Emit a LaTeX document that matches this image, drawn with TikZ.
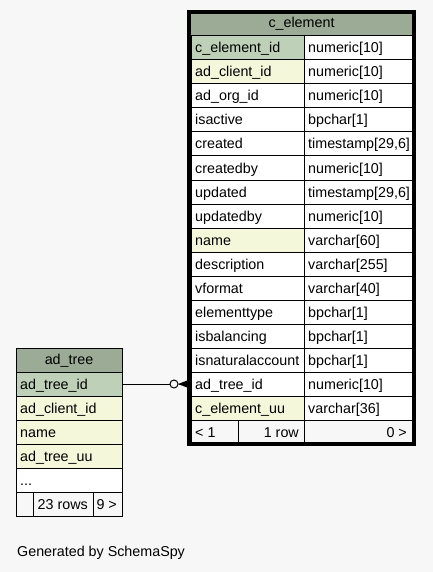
\documentclass[tikz,border=0pt]{standalone}
\usepackage{fontspec}
\setmainfont{Liberation Sans}
\definecolor{bg}{HTML}{F7F7F7}
\definecolor{hdr}{HTML}{9BAB96}
\definecolor{pk}{HTML}{BED1B8}
\definecolor{idx}{HTML}{F4F7DA}
% left-aligned cell: name, x, y(top), width, fill, text
\newcommand\lcell[6]{%
  \node[cellbox,fill=#5,minimum width=#4pt] (#1) at (#2,#3) {};
  \node[txt,anchor=base west] (#1-t) at ({#2+4},{#3+17}) {#6};}
% right-aligned cell
\newcommand\rcell[6]{%
  \node[cellbox,fill=#5,minimum width=#4pt] (#1) at (#2,#3) {};
  \node[txt,anchor=base east] (#1-t) at ({#2+#4-5},{#3+17}) {#6};}
% centered header cell
\newcommand\hcell[6]{%
  \node[cellbox,fill=#5,minimum width=#4pt] (#1) at (#2,#3) {};
  \node[txt,anchor=base] (#1-t) at ({#2+#4/2},{#3+16}) {#6};}
% empty cell
\newcommand\ecell[5]{%
  \node[cellbox,fill=#5,minimum width=#4pt] (#1) at (#2,#3) {};}
% c_element row: index, y, fill1, text1, text2
\newcommand\cerow[5]{%
  \lcell{ce#1a}{191}{#2}{113}{#3}{#4}%
  \lcell{ce#1b}{304}{#2}{108}{white}{#5}}
\begin{document}
\begin{tikzpicture}[x=1pt,y=-1pt,
  cellbox/.style={draw=black,line width=1pt,inner sep=0pt,outer sep=0pt,
    minimum height=24pt,anchor=north west},
  txt/.style={inner sep=0pt,font=\fontsize{14.3}{16}\selectfont,text=black},
  frame/.style={draw=black,line width=4pt,inner sep=0pt,outer sep=0pt,anchor=north west},
  conn/.style={draw=black,line width=1pt}]
\fill[bg] (0,0) rectangle (433,572);
\useasboundingbox (0,0) rectangle (433,572);

% ---------------- c_element ----------------
\hcell{ceh}{189}{12}{225}{hdr}{c\_element}
\cerow{0}{36}{pk}{c\_element\_id}{numeric[10]}
\cerow{1}{60}{idx}{ad\_client\_id}{numeric[10]}
\cerow{2}{84}{white}{ad\_org\_id}{numeric[10]}
\cerow{3}{108}{white}{isactive}{bpchar[1]}
\cerow{4}{132}{white}{created}{timestamp[29,6]}
\cerow{5}{156}{white}{createdby}{numeric[10]}
\cerow{6}{180}{white}{updated}{timestamp[29,6]}
\cerow{7}{204}{white}{updatedby}{numeric[10]}
\cerow{8}{228}{idx}{name}{varchar[60]}
\cerow{9}{252}{white}{description}{varchar[255]}
\cerow{10}{276}{white}{vformat}{varchar[40]}
\cerow{11}{300}{white}{elementtype}{bpchar[1]}
\cerow{12}{324}{white}{isbalancing}{bpchar[1]}
\cerow{13}{348}{white}{isnaturalaccount}{bpchar[1]}
\cerow{14}{372}{white}{ad\_tree\_id}{numeric[10]}
\cerow{15}{396}{idx}{c\_element\_uu}{varchar[36]}
\lcell{cef1}{191}{420}{47}{bg}{< 1}
\rcell{cef2}{238}{420}{66}{bg}{1 row}
\rcell{cef3}{304}{420}{108}{bg}{0 >}
\node[frame,minimum width=225pt,minimum height=432pt] (celement) at (189,12) {};

% ---------------- ad_tree ----------------
\hcell{ath}{16}{348}{106}{hdr}{ad\_tree}
\lcell{at0}{16}{372}{106}{pk}{ad\_tree\_id}
\lcell{at1}{16}{396}{106}{idx}{ad\_client\_id}
\lcell{at2}{16}{420}{106}{idx}{name}
\lcell{at3}{16}{444}{106}{idx}{ad\_tree\_uu}
\lcell{at4}{16}{468}{106}{white}{...}
\ecell{atf1}{16}{492}{17}{bg}
\rcell{atf2}{33}{492}{60}{bg}{23 rows}
\rcell{atf3}{93}{492}{29}{bg}{9 >}

% ---------------- connector ----------------
\node[circle,draw=black,line width=1pt,fill=bg,minimum size=8pt,inner sep=0pt] (odot) at (174,384) {};
\coordinate (crowtip) at (178,384);
\draw[conn] (at0.east) -- (odot.west);
\draw[conn] (odot.east) -- (ce14a.west);
\fill[black] (crowtip) -- ([yshift=-5pt]ce14a.west) -- ([yshift=5pt]ce14a.west) -- cycle;

% ---------------- footer ----------------
\node[txt,anchor=base west] (gen) at (17,556) {Generated by SchemaSpy};
\end{tikzpicture}
\end{document}
